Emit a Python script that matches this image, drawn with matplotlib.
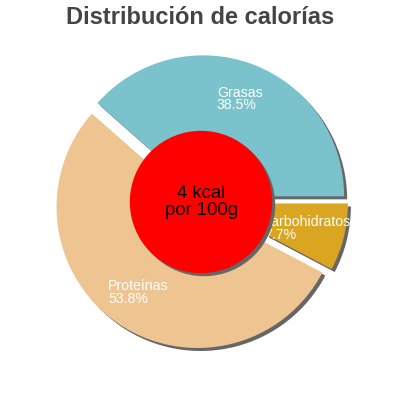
import math
import matplotlib
matplotlib.use("Agg")
import matplotlib.pyplot as plt
from matplotlib.patches import Circle

# ── data ─────────────────────────────────────────────────────────────────────
labels = ["Grasas", "Proteínas", "carbohidratos"]
values = [38.5, 53.8, 7.7]
colors = ["#7bc3cc", "#eec591", "#daa520"]
title = "Distribución de calorías"
center_text = "4 kcal\npor 100g"

plt.rcParams["font.family"] = ["Liberation Sans", "DejaVu Sans"]

R_PX = 141.0
EXPL = 0.043
SHADOW = 3.0 / R_PX

fig = plt.figure(figsize=(4, 4), dpi=100)
ax = fig.add_axes([0, 0, 1, 1])

# shadow first, then the coloured wedges on top
ax.pie(values, colors=["#666666"] * len(values), explode=[EXPL] * len(values),
       startangle=0, counterclock=True, center=(SHADOW, -SHADOW), frame=True,
       wedgeprops=dict(linewidth=0))
ax.pie(values, colors=colors, explode=[EXPL] * len(values),
       startangle=0, counterclock=True, center=(0, 0), frame=True,
       wedgeprops=dict(linewidth=0))
ax.set_xlim(-201 / R_PX, 199 / R_PX)
ax.set_ylim(-198 / R_PX, 202 / R_PX)
ax.axis("off")

# wedge labels
total = sum(values)
start = 0.0
for lab, v in zip(labels, values):
    mid = math.radians(start + 360.0 * v / total / 2)
    rr = 0.78
    ax.text(rr * math.cos(mid), rr * math.sin(mid), f"{lab}\n{v}%",
            color="white", fontsize=10.2, ha="center", va="center",
            multialignment="left", linespacing=0.88)
    start += 360.0 * v / total

# red centre disc with its shadow
ax.add_patch(Circle((SHADOW, -SHADOW), 0.5, color="#666666", zorder=3))
ax.add_patch(Circle((0, 0), 0.5, color="#ff0000", zorder=4))
ax.text(0, 0, center_text, fontsize=13.3, ha="center", va="center",
        color="black", zorder=5, linespacing=1.0)

fig.text(0.5, 1 - 17 / 400, title, fontsize=17, fontweight="bold",
         color="#444444", ha="center", va="center")

fig.savefig("out.png", dpi=100)
